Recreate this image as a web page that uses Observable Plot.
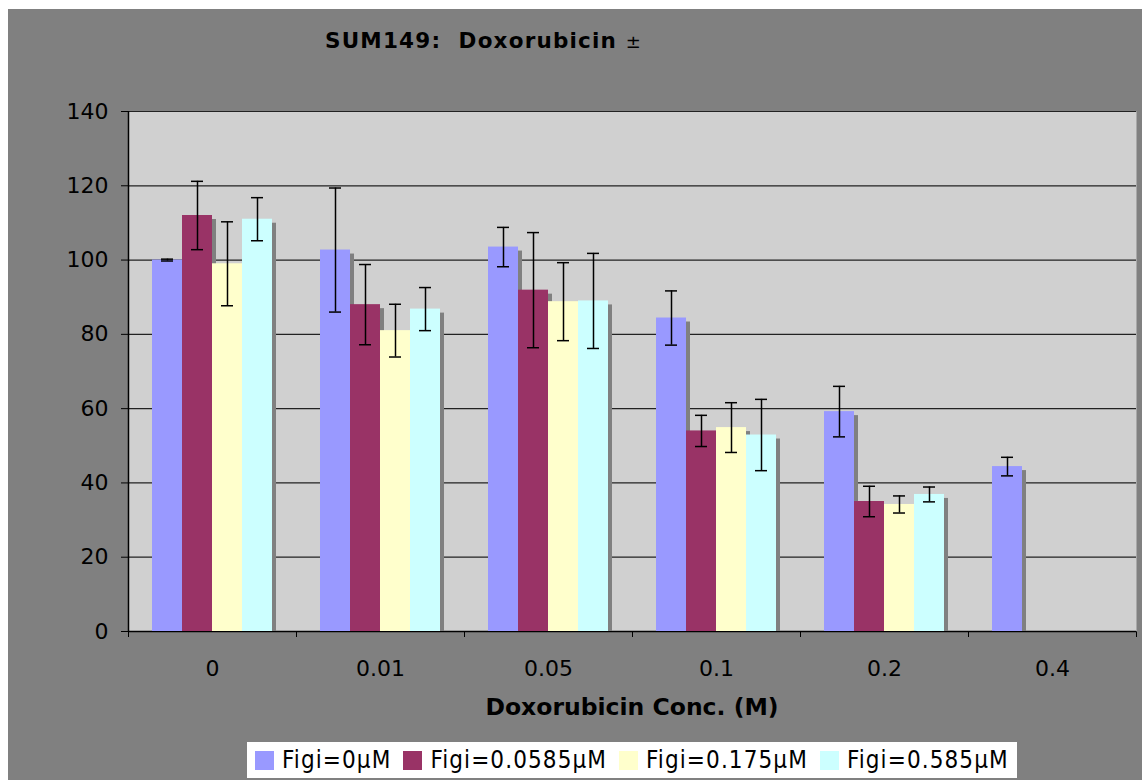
<!DOCTYPE html>
<html>
<head>
<meta charset="utf-8">
<script src="https://cdn.jsdelivr.net/npm/d3@7"></script>
<script src="https://cdn.jsdelivr.net/npm/@observablehq/plot@0.6"></script>
<style>
  body { margin: 0; }
  #page { position: relative; width: 1142px; height: 780px; background: #fff; overflow: hidden; }
  #bg { position: absolute; left: 8px; top: 9px; right: 0; bottom: 0; background: #808080; }
  .layer { position: absolute; left: 0; top: 0; }
  #title { position: absolute; left: 325px; top: 30px; font-family: "DejaVu Sans"; font-weight: bold; font-size: 21.5px; line-height: 1; white-space: pre; color: #000; letter-spacing: 1.2px; }
  #title .pm { font-weight: normal; font-size: 18px; letter-spacing: 0; }
  #xtitle { position: absolute; left: 128px; width: 1008px; text-align: center; top: 696px; font-family: "DejaVu Sans"; font-weight: bold; font-size: 23.5px; line-height: 1; color: #000; }
  #legend { position: absolute; left: 247px; top: 742px; height: 36px; background: #fff; display: flex; align-items: center; padding: 0 8px; font-family: "DejaVu Sans Condensed", "DejaVu Sans"; font-stretch: condensed; font-size: 24px; letter-spacing: 1.1px; color: #000; }
  #legend .item { display: flex; align-items: center; margin-right: 12px; }
  #legend .item:last-child { margin-right: 0; }
  #legend .sw { width: 19px; height: 19px; margin-right: 8px; }
</style>
</head>
<body>
<div id="page">
  <div id="bg"></div>
  <div id="base" class="layer"></div>
  <div id="bars" class="layer"></div>
  <div id="title"></div>
  <div id="xtitle"></div>
  <div id="legend"></div>
</div>
<script>
// ---- data ----
const titleText = "SUM149:  Doxorubicin";
const xTitle = "Doxorubicin Conc. (M)";
const categories = ["0", "0.01", "0.05", "0.1", "0.2", "0.4"];
const series = ["Figi=0µM", "Figi=0.0585µM", "Figi=0.175µM", "Figi=0.585µM"];
const colors = ["#9999FF", "#993366", "#FFFFCC", "#CCFFFF"];
const yTicks = [0, 20, 40, 60, 80, 100, 120, 140];

const valuesFigi0 = [100, 102.7, 103.5, 84.4, 59.2, 44.4];
const errorsFigi0 = [0.25, 16.7, 5.3, 7.3, 6.8, 2.5];
const valuesFigi00585 = [112, 88, 91.9, 54, 35, null];
const errorsFigi00585 = [9.2, 10.8, 15.5, 4.2, 4.1, null];
const valuesFigi0175 = [99, 81, 88.8, 54.9, 34.2, null];
const errorsFigi0175 = [11.3, 7.1, 10.5, 6.7, 2.3, null];
const valuesFigi0585 = [111, 86.8, 89, 52.9, 36.9, null];
const errorsFigi0585 = [5.8, 5.8, 12.8, 9.6, 2.0, null];

const seriesValues = [valuesFigi0, valuesFigi00585, valuesFigi0175, valuesFigi0585];
const seriesErrors = [errorsFigi0, errorsFigi00585, errorsFigi0175, errorsFigi0585];

const rows = [];
categories.forEach((c, i) => {
  series.forEach((s, j) => {
    const v = seriesValues[j][i];
    if (v != null) rows.push({cat: c, series: s, value: v, err: seriesErrors[j][i]});
  });
});

const W = 1142, H = 700;
const margins = {marginTop: 111, marginBottom: 69, marginLeft: 128, marginRight: 6};
const baseStyle = {background: "transparent", fontFamily: "DejaVu Sans", fontSize: "22px", color: "#000", overflow: "visible"};

// ---- base layer: plot area, gridlines, axes ----
const base = Plot.plot({
  width: W, height: H, ...margins,
  style: baseStyle,
  x: {domain: [0, categories.length], ticks: d3.range(categories.length + 1), tickSize: 6, tickFormat: () => "", label: null},
  y: {domain: [0, 140], ticks: yTicks, tickSize: 7, tickPadding: 13, label: null},
  marks: [
    Plot.frame({fill: "#d0d0d0", stroke: null}),
    Plot.ruleY(yTicks.filter(d => d > 0), {stroke: "#222", strokeWidth: 1.2}),
    Plot.ruleY([0], {stroke: "#000", strokeWidth: 1.5}),
    Plot.ruleX([0], {stroke: "#000", strokeWidth: 1.5})
  ]
});
document.getElementById("base").appendChild(base);

// ---- bars layer ----
const bars = Plot.plot({
  width: W, height: H, ...margins,
  style: baseStyle,
  facet: {data: rows, x: "cat"},
  fx: {domain: categories, paddingInner: 0.274, paddingOuter: 0.137, tickSize: 0, tickPadding: 29, label: null, axis: "bottom"},
  x: {domain: series, padding: 0, axis: null},
  y: {domain: [0, 140], axis: null},
  color: {domain: series, range: colors},
  marks: [
    Plot.barY(rows, {x: "series", y: "value", fill: "#808080", dx: 4, insetTop: 4}),
    Plot.barY(rows, {x: "series", y: "value", fill: "series"}),
    Plot.ruleX(rows, {x: "series", y1: d => d.value - d.err, y2: d => d.value + d.err, stroke: "#000", strokeWidth: 1.5}),
    Plot.tickY(rows, {x: "series", y: d => d.value - d.err, stroke: "#000", strokeWidth: 1.5, insetLeft: 9, insetRight: 9}),
    Plot.tickY(rows, {x: "series", y: d => d.value + d.err, stroke: "#000", strokeWidth: 1.5, insetLeft: 9, insetRight: 9})
  ]
});
document.getElementById("bars").appendChild(bars);

// ---- text ----
const t = document.getElementById("title");
t.textContent = titleText + " ";
const pm = document.createElement("span");
pm.className = "pm";
pm.textContent = "±";
t.appendChild(pm);
document.getElementById("xtitle").textContent = xTitle;

const lg = document.getElementById("legend");
series.forEach((s, j) => {
  const it = document.createElement("div");
  it.className = "item";
  const sw = document.createElement("div");
  sw.className = "sw";
  sw.style.background = colors[j];
  const tx = document.createElement("span");
  tx.textContent = s;
  it.appendChild(sw);
  it.appendChild(tx);
  lg.appendChild(it);
});
</script>
</body>
</html>
